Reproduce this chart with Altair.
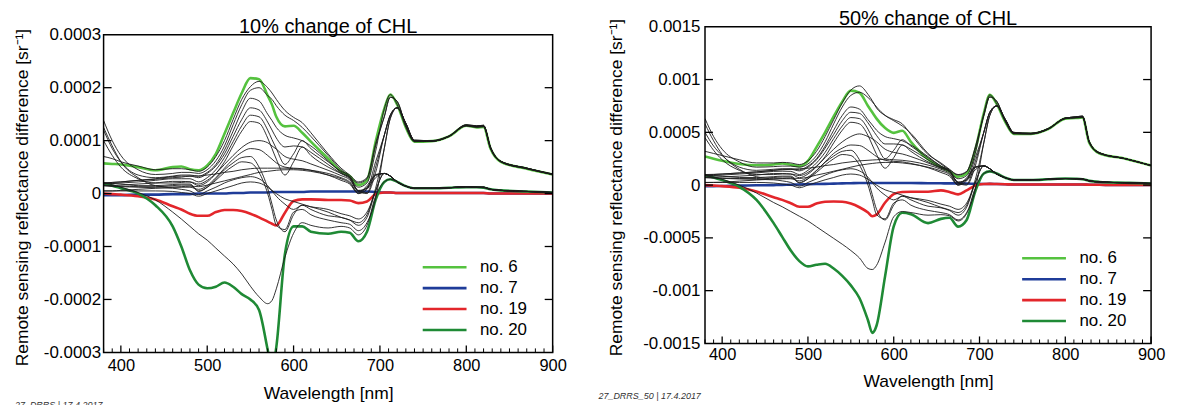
import altair as alt
import pandas as pd

FONT = "Liberation Sans"
UNIT = 1e-4  # all values below are in units of 1e-4 sr^-1

# wavelength grids [nm]
WL_HEAD = [380, 390, 400, 420, 440, 460, 470, 480, 490, 500, 510, 520, 530, 540, 550,
           560, 570, 575, 580, 590, 600, 610, 620, 640, 655, 665, 675, 685, 695]
WL_TAIL = [705, 712, 720, 730, 740, 760, 780, 800, 812, 820, 828, 840, 870, 900]

SERIES = ["no. 6", "no. 7", "no. 19", "no. 20"]
SERIES_COLORS = ["#55c23f", "#1f3c99", "#e3262b", "#1f8a35"]

# ---------------- 10 % change of CHL ----------------
TAILS_10 = {
    "UP1": [1.60, 1.87, 1.68, 1.25, 0.98, 0.99, 1.08, 1.28, 1.25, 1.26, 0.85, 0.60, 0.47, 0.36],
    "UP2": [1.45, 1.82, 1.74, 1.28, 0.99, 0.99, 1.08, 1.28, 1.26, 1.27, 0.86, 0.60, 0.47, 0.36],
    "UP3": [1.10, 1.48, 1.62, 1.32, 1.00, 0.99, 1.08, 1.29, 1.27, 1.28, 0.87, 0.61, 0.48, 0.36],
    "UP4": [0.85, 1.42, 1.62, 1.33, 1.01, 1.00, 1.09, 1.30, 1.28, 1.29, 0.88, 0.61, 0.48, 0.37],
    "LOW1": [0.38, 0.33, 0.22, 0.14, 0.10, 0.10, 0.11, 0.13, 0.12, 0.12, 0.08, 0.06, 0.04, 0.02],
    "LOW2": [0.22, 0.27, 0.22, 0.14, 0.10, 0.10, 0.11, 0.12, 0.12, 0.11, 0.08, 0.06, 0.04, 0.02],
    "ZERO": [0.02, 0.02, 0.01, 0.01, 0.01, 0.01, 0.01, 0.01, 0.01, 0.01, 0.00, 0.00, 0.00, 0.00],
}
COLORED_10 = {
    "no. 6": ([0.57, 0.56, 0.55, 0.50, 0.44, 0.50, 0.51, 0.46, 0.44, 0.53, 0.75, 1.13, 1.52, 1.90, 2.18,
               2.16, 1.85, 1.68, 1.45, 1.27, 1.28, 1.15, 0.98, 0.66, 0.42, 0.33, 0.16, 0.25, 0.98], "UP1"),
    "no. 7": ([-0.03, -0.03, -0.03, -0.02, -0.02, -0.01, -0.01, -0.01, 0.00, 0.00, 0.00, 0.00, 0.01, 0.01, 0.02,
               0.02, 0.02, 0.03, 0.03, 0.03, 0.03, 0.03, 0.04, 0.04, 0.04, 0.04, 0.04, 0.04, 0.03], "ZERO"),
    "no. 19": ([0.00, -0.01, -0.02, -0.05, -0.11, -0.24, -0.30, -0.38, -0.42, -0.42, -0.35, -0.31, -0.31, -0.33, -0.38,
                -0.45, -0.53, -0.57, -0.60, -0.36, -0.14, -0.11, -0.11, -0.12, -0.12, -0.13, -0.18, -0.15, -0.01], "ZERO"),
    "no. 20": ([0.19, 0.15, 0.10, 0.00, -0.22, -0.62, -1.00, -1.45, -1.72, -1.79, -1.76, -1.68, -1.76, -1.90, -2.00,
                -2.20, -2.95, -3.35, -2.90, -1.14, -0.62, -0.62, -0.72, -0.76, -0.72, -0.74, -0.90, -0.72, -0.12], "LOW2"),
}
BLACK_10 = {
    "k1": ([0.70, 0.66, 0.60, 0.52, 0.45, 0.47, 0.47, 0.45, 0.42, 0.50, 0.70, 1.00, 1.40, 1.78, 2.02,
            2.12, 2.00, 1.90, 1.78, 1.57, 1.44, 1.34, 1.15, 0.75, 0.48, 0.35, 0.22, 0.30, 0.95], "UP2"),
    "k2": ([1.38, 1.00, 0.72, 0.45, 0.36, 0.38, 0.40, 0.40, 0.38, 0.45, 0.62, 0.90, 1.30, 1.68, 1.95,
            2.00, 1.85, 1.78, 1.66, 1.48, 1.38, 1.25, 1.08, 0.72, 0.45, 0.32, 0.20, 0.28, 0.90], "UP2"),
    "k3": ([1.20, 0.85, 0.60, 0.35, 0.30, 0.33, 0.35, 0.35, 0.33, 0.40, 0.55, 0.82, 1.18, 1.55, 1.80,
            1.75, 1.50, 1.38, 1.25, 1.10, 1.05, 1.00, 0.90, 0.62, 0.40, 0.30, 0.12, 0.20, 0.80], "UP1"),
    "k4": ([0.20, 0.21, 0.22, 0.25, 0.28, 0.32, 0.33, 0.33, 0.30, 0.38, 0.52, 0.75, 1.08, 1.40, 1.62,
            1.58, 1.35, 1.20, 1.05, 0.88, 0.90, 0.88, 0.78, 0.55, 0.38, 0.28, 0.06, 0.10, 0.60], "UP3"),
    "k5": ([0.18, 0.19, 0.20, 0.22, 0.25, 0.28, 0.28, 0.28, 0.22, 0.30, 0.45, 0.68, 0.98, 1.28, 1.48,
            1.45, 1.20, 1.02, 0.85, 0.55, 0.75, 1.00, 0.85, 0.60, 0.42, 0.33, 0.05, 0.02, 0.50], "UP3"),
    "k6": ([0.15, 0.15, 0.16, 0.18, 0.20, 0.23, 0.23, 0.22, 0.15, 0.22, 0.38, 0.60, 0.90, 1.18, 1.36,
            1.33, 1.05, 0.85, 0.65, 0.35, 0.60, 0.88, 0.72, 0.50, 0.38, 0.30, 0.04, 0.00, 0.40], "UP3"),
    "k7": ([1.00, 0.72, 0.50, 0.28, 0.20, 0.20, 0.21, 0.22, 0.18, 0.25, 0.38, 0.55, 0.72, 0.87, 0.97,
            1.00, 0.96, 0.90, 0.84, 0.70, 0.65, 0.62, 0.56, 0.44, 0.34, 0.26, 0.05, 0.10, 0.35], "LOW1"),
    "k8": ([1.25, 0.90, 0.60, 0.30, 0.15, 0.12, 0.12, 0.12, 0.08, 0.15, 0.30, 0.48, 0.65, 0.78, 0.85,
            0.83, 0.72, 0.65, 0.58, 0.50, 0.48, 0.47, 0.44, 0.35, 0.25, 0.18, 0.00, 0.08, 0.30], "LOW1"),
    "k9": ([0.20, 0.21, 0.22, 0.25, 0.27, 0.30, 0.31, 0.33, 0.33, 0.35, 0.37, 0.40, 0.42, 0.45, 0.47,
            0.48, 0.48, 0.48, 0.48, 0.48, 0.47, 0.46, 0.44, 0.38, 0.30, 0.22, 0.02, 0.15, 0.36], "LOW1"),
    "k10": ([0.05, 0.05, 0.06, 0.08, 0.10, 0.12, 0.13, 0.14, 0.13, 0.16, 0.20, 0.24, 0.28, 0.32, 0.36,
             0.40, 0.42, 0.43, 0.44, 0.45, 0.45, 0.44, 0.42, 0.35, 0.28, 0.20, 0.00, 0.12, 0.34], "LOW1"),
    "k11": ([0.20, 0.19, 0.18, 0.15, 0.15, 0.17, 0.18, 0.18, 0.05, 0.12, 0.25, 0.40, 0.52, 0.60, 0.58,
             0.40, 0.00, -0.30, -0.60, -0.68, -0.35, -0.30, -0.40, -0.50, -0.55, -0.58, -0.70, -0.55, -0.10], "UP4"),
    "k12": ([0.15, 0.14, 0.14, 0.13, 0.13, 0.15, 0.16, 0.16, 0.04, 0.12, 0.28, 0.45, 0.58, 0.68, 0.70,
             0.50, 0.10, -0.20, -0.50, -0.72, -0.40, -0.22, -0.30, -0.42, -0.45, -0.50, -0.60, -0.45, 0.05], "LOW1"),
    "k13": ([0.20, 0.17, 0.12, 0.02, -0.12, -0.35, -0.48, -0.62, -0.76, -0.88, -1.03, -1.18, -1.33, -1.52, -1.75,
             -1.95, -2.08, -2.02, -1.80, -1.20, -0.75, -0.55, -0.60, -0.65, -0.62, -0.65, -0.78, -0.60, -0.05], "LOW2"),
    "k14": ([0.05, 0.05, 0.05, 0.05, 0.05, 0.04, 0.02, 0.00, -0.05, 0.00, 0.05, 0.10, 0.15, 0.20, 0.22,
             0.20, 0.12, 0.06, 0.00, -0.10, -0.15, -0.20, -0.25, -0.35, -0.45, -0.50, -0.55, -0.40, 0.05], "LOW1"),
    "k15": ([0.15, 0.14, 0.13, 0.12, 0.11, 0.10, 0.08, 0.05, -0.02, 0.05, 0.12, 0.20, 0.26, 0.30, 0.32,
             0.28, 0.15, 0.05, -0.05, -0.20, -0.30, -0.22, -0.25, -0.30, -0.38, -0.42, -0.48, -0.35, 0.10], "UP4"),
}

# ---------------- 50 % change of CHL ----------------
TAILS_50 = {
    "UP1": [6.80, 8.55, 7.70, 6.00, 4.85, 4.85, 5.30, 6.30, 6.35, 6.40, 4.00, 3.00, 2.50, 1.85],
    "UP2": [6.60, 8.35, 7.95, 6.10, 4.90, 4.85, 5.30, 6.30, 6.40, 6.45, 4.05, 3.00, 2.50, 1.85],
    "UP3": [5.00, 6.90, 7.50, 6.20, 4.95, 4.90, 5.35, 6.35, 6.45, 6.50, 4.10, 3.05, 2.50, 1.85],
    "UP4": [4.00, 6.60, 7.50, 6.25, 5.00, 4.90, 5.35, 6.35, 6.45, 6.55, 4.10, 3.05, 2.50, 1.85],
    "LOW1": [1.82, 1.55, 1.05, 0.70, 0.50, 0.50, 0.55, 0.62, 0.60, 0.58, 0.40, 0.30, 0.22, 0.16],
    "LOW2": [1.10, 1.30, 1.10, 0.70, 0.48, 0.48, 0.55, 0.62, 0.60, 0.56, 0.40, 0.30, 0.22, 0.15],
    "ZERO": [0.10, 0.12, 0.10, 0.08, 0.06, 0.05, 0.05, 0.05, 0.05, 0.05, 0.04, 0.03, 0.02, 0.02],
}
COLORED_50 = {
    "no. 6": ([2.72, 2.50, 2.30, 2.00, 1.88, 1.95, 2.04, 1.92, 1.80, 2.30, 3.60, 5.00, 6.50, 7.90, 8.95,
               8.75, 7.50, 6.90, 6.30, 5.40, 4.95, 5.15, 4.10, 2.45, 1.70, 1.30, 0.79, 1.10, 3.30], "UP1"),
    "no. 7": ([-0.10, -0.10, -0.08, -0.05, -0.02, 0.00, 0.02, 0.04, 0.06, 0.08, 0.10, 0.12, 0.14, 0.16, 0.18,
               0.20, 0.20, 0.20, 0.20, 0.20, 0.20, 0.20, 0.20, 0.18, 0.17, 0.16, 0.16, 0.15, 0.12], "ZERO"),
    "no. 19": ([0.00, -0.05, -0.10, -0.25, -0.60, -1.15, -1.40, -1.72, -2.05, -2.05, -1.75, -1.57, -1.55, -1.57, -1.75,
                -2.10, -2.60, -2.95, -2.80, -1.65, -0.85, -0.65, -0.63, -0.63, -0.50, -0.65, -0.88, -0.50, -0.05], "ZERO"),
    "no. 20": ([0.94, 0.72, 0.47, -0.16, -1.40, -3.60, -4.90, -6.20, -7.20, -7.70, -7.55, -7.45, -7.90, -8.60, -9.50,
                -10.70, -12.80, -14.00, -13.30, -8.60, -3.90, -2.62, -2.75, -3.60, -3.20, -3.10, -3.93, -3.30, -0.60], "LOW2"),
}
BLACK_50 = {
    "k1": ([3.20, 3.00, 2.80, 2.40, 2.10, 2.10, 2.15, 2.10, 1.95, 2.30, 3.20, 4.60, 6.20, 7.80, 9.00,
            9.40, 8.60, 8.00, 7.30, 6.60, 6.20, 5.80, 4.80, 2.90, 2.10, 1.50, 1.00, 1.30, 3.60], "UP2"),
    "k2": ([6.30, 4.60, 3.40, 2.20, 1.70, 1.75, 1.80, 1.80, 1.70, 2.00, 2.80, 4.10, 5.80, 7.40, 8.50,
            8.80, 8.30, 7.90, 7.40, 6.60, 6.10, 5.60, 4.90, 3.00, 2.00, 1.45, 0.95, 1.25, 3.40], "UP2"),
    "k3": ([5.00, 3.70, 2.80, 1.70, 1.40, 1.50, 1.55, 1.55, 1.45, 1.80, 2.50, 3.70, 5.20, 6.60, 7.40,
            7.20, 6.20, 5.70, 5.20, 4.60, 4.40, 4.20, 3.80, 2.70, 1.80, 1.35, 0.60, 0.90, 3.00], "UP1"),
    "k4": ([0.95, 1.00, 1.05, 1.15, 1.25, 1.40, 1.50, 1.50, 1.35, 1.70, 2.40, 3.50, 4.80, 6.10, 6.90,
            6.80, 5.90, 5.30, 4.70, 3.90, 3.90, 3.80, 3.40, 2.40, 1.70, 1.30, 0.30, 0.50, 2.60], "UP3"),
    "k5": ([0.90, 0.92, 0.95, 1.05, 1.15, 1.30, 1.32, 1.30, 1.00, 1.40, 2.10, 3.10, 4.40, 5.60, 6.40,
            6.30, 5.30, 4.50, 3.80, 2.50, 3.30, 4.30, 3.70, 2.60, 1.80, 1.40, 0.25, 0.10, 2.20], "UP3"),
    "k6": ([0.75, 0.76, 0.78, 0.85, 0.95, 1.10, 1.10, 1.05, 0.70, 1.05, 1.75, 2.70, 4.00, 5.20, 5.95,
            5.80, 4.70, 3.80, 2.90, 1.60, 2.60, 3.80, 3.20, 2.20, 1.65, 1.30, 0.20, 0.00, 1.80], "UP3"),
    "k7": ([4.50, 3.30, 2.40, 1.40, 1.00, 1.00, 1.05, 1.05, 0.90, 1.20, 1.80, 2.60, 3.40, 4.10, 4.60,
            4.85, 4.60, 4.40, 4.10, 3.40, 3.10, 2.95, 2.70, 2.10, 1.60, 1.25, 0.25, 0.50, 1.70], "LOW1"),
    "k8": ([5.80, 4.20, 2.90, 1.50, 0.80, 0.60, 0.60, 0.60, 0.40, 0.75, 1.40, 2.20, 3.00, 3.50, 3.80,
            3.75, 3.30, 3.00, 2.70, 2.35, 2.25, 2.20, 2.05, 1.65, 1.20, 0.85, 0.00, 0.40, 1.45], "LOW1"),
    "k9": ([1.00, 1.02, 1.05, 1.15, 1.25, 1.40, 1.45, 1.50, 1.55, 1.60, 1.70, 1.85, 1.95, 2.10, 2.20,
            2.30, 2.35, 2.38, 2.40, 2.45, 2.40, 2.35, 2.25, 1.90, 1.50, 1.10, 0.10, 0.70, 1.75], "LOW1"),
    "k10": ([0.25, 0.26, 0.28, 0.38, 0.48, 0.58, 0.62, 0.66, 0.63, 0.75, 0.95, 1.12, 1.32, 1.50, 1.70,
             1.88, 2.00, 2.05, 2.10, 2.15, 2.15, 2.10, 2.00, 1.70, 1.35, 1.00, 0.00, 0.60, 1.65], "LOW1"),
    "k11": ([0.95, 0.90, 0.85, 0.72, 0.72, 0.80, 0.85, 0.85, 0.25, 0.60, 1.20, 1.90, 2.50, 2.90, 2.80,
             1.90, 0.00, -1.40, -2.80, -3.20, -1.70, -1.40, -1.90, -2.40, -2.60, -2.80, -3.30, -2.60, -0.50], "UP4"),
    "k12": ([0.70, 0.68, 0.66, 0.62, 0.62, 0.72, 0.76, 0.76, 0.20, 0.60, 1.35, 2.15, 2.75, 3.20, 3.30,
             2.40, 0.50, -0.90, -2.30, -3.30, -1.90, -1.05, -1.40, -2.00, -2.15, -2.40, -2.85, -2.10, 0.25], "LOW1"),
    "k13": ([0.90, 0.75, 0.55, 0.00, -0.75, -1.65, -2.05, -2.50, -2.95, -3.40, -3.95, -4.50, -5.05, -5.60, -6.20,
             -6.90, -7.90, -8.00, -7.60, -5.40, -3.00, -2.50, -2.60, -2.85, -2.80, -2.90, -3.40, -2.70, -0.30], "LOW2"),
    "k14": ([0.25, 0.25, 0.25, 0.25, 0.25, 0.20, 0.10, 0.00, -0.25, 0.00, 0.25, 0.50, 0.72, 0.95, 1.05,
             0.95, 0.55, 0.30, 0.00, -0.45, -0.70, -0.95, -1.20, -1.65, -2.10, -2.35, -2.60, -1.90, 0.20], "LOW1"),
    "k15": ([0.72, 0.68, 0.64, 0.58, 0.54, 0.50, 0.40, 0.25, -0.10, 0.25, 0.58, 0.95, 1.25, 1.45, 1.55,
             1.35, 0.75, 0.25, -0.25, -0.95, -1.40, -1.05, -1.20, -1.45, -1.80, -2.00, -2.30, -1.70, 0.50], "UP4"),
}

X_TICKS = [400, 500, 600, 700, 800, 900]
X_MINOR = [w for w in range(380, 901, 10) if w % 100 != 0]
Y_TICKS_10 = [-0.0003, -0.0002, -0.0001, 0.0, 0.0001, 0.0002, 0.0003]
Y_TICKS_50 = [-0.0015, -0.001, -0.0005, 0.0, 0.0005, 0.001, 0.0015]


def build_rows(curves, tails):
    rows = []
    for name, (head, tail_key) in curves.items():
        for w, v in zip(WL_HEAD + WL_TAIL, head + tails[tail_key]):
            rows.append({"curve": name, "wl": w, "val": v * UNIT})
    return pd.DataFrame(rows)


def panel(colored, black, tails, yticks, title, W, H, top, leg_x, leg_y, label_pad, title_pad,
          title_y, x_label_pad, x_title_pad, footer, foot_x, foot_y):
    # top: pixel offset of the frame's top inside the view
    ymax = yticks[-1]
    xs = alt.Scale(domain=[380, 900], nice=False, zero=False)
    ys = alt.Scale(domain=[-ymax, ymax], range=[H, top], nice=False, zero=False)
    xaxis = alt.Axis(values=X_TICKS, format="d", title="Wavelength [nm]", grid=False, ticks=False,
                     tickSize=0, domain=False, labelFont=FONT, labelFontSize=16.5, labelColor="black",
                     labelPadding=x_label_pad, labelFlush=False, labelOverlap=False, titleFont=FONT,
                     titleFontSize=17.5, titleFontWeight="normal", titleColor="black",
                     titlePadding=x_title_pad)
    yaxis = alt.Axis(values=yticks, title="Remote sensing reflectance difference [sr⁻¹]", grid=False,
                     ticks=False, tickSize=0, domain=False, labelFont=FONT, labelFontSize=17,
                     labelColor="black", labelPadding=label_pad, labelFlush=False, labelOverlap=False,
                     labelExpr="replace(format(datum.value, '.4~f'), '\u2212', '-')",
                     titleFont=FONT, titleFontSize=17.5, titleFontWeight="normal", titleColor="black",
                     titlePadding=title_pad, titleY=title_y)

    col_df = build_rows(colored, tails)
    blk_df = build_rows(black, tails)

    colored_layer = alt.Chart(col_df).mark_line(strokeWidth=2.6, clip=True, interpolate="monotone").encode(
        x=alt.X("wl:Q", scale=xs, axis=xaxis),
        y=alt.Y("val:Q", scale=ys, axis=yaxis),
        color=alt.Color("curve:N", scale=alt.Scale(domain=SERIES, range=SERIES_COLORS),
                        sort=SERIES,
                        legend=alt.Legend(title=None, orient="none", legendX=leg_x, legendY=leg_y,
                                          symbolType="M-2.2,0H2.2", symbolSize=400, symbolStrokeWidth=2.6,
                                          labelFont=FONT, labelFontSize=17, labelColor="black",
                                          labelOffset=24, rowPadding=1, padding=0)),
        order=alt.Order("wl:Q"),
    )
    black_layer = alt.Chart(blk_df).mark_line(strokeWidth=0.9, color="#1c1c1c", clip=True,
                                              interpolate="monotone").encode(
        x=alt.X("wl:Q", scale=xs), y=alt.Y("val:Q", scale=ys), detail="curve:N",
        order=alt.Order("wl:Q"),
    )

    one = pd.DataFrame({"t": [title]})
    frame = alt.Chart(one).mark_rect(filled=False, stroke="black", strokeWidth=1.5).encode(
        x=alt.value(0), x2=alt.value(W), y=alt.value(top), y2=alt.value(H))
    title_mark = alt.Chart(one).mark_text(
        align="center", baseline="alphabetic", font=FONT, fontSize=20, color="black"
    ).encode(x=alt.value(W / 2), y=alt.value(top - 2), text="t:N")

    ytick_df = pd.DataFrame({"val": yticks[1:-1]})
    left_ticks = alt.Chart(ytick_df).mark_rule(color="black", strokeWidth=1.3).encode(
        y=alt.Y("val:Q", scale=ys), x=alt.value(0), x2=alt.value(8))
    right_ticks = alt.Chart(ytick_df).mark_rule(color="black", strokeWidth=1.3).encode(
        y=alt.Y("val:Q", scale=ys), x=alt.value(W), x2=alt.value(W - 8))
    major_ticks = alt.Chart(pd.DataFrame({"wl": X_TICKS})).mark_rule(color="black", strokeWidth=1.3).encode(
        x=alt.X("wl:Q", scale=xs), y=alt.value(H), y2=alt.value(H - 7))
    minor_ticks = alt.Chart(pd.DataFrame({"wl": X_MINOR})).mark_rule(color="black", strokeWidth=1).encode(
        x=alt.X("wl:Q", scale=xs), y=alt.value(H), y2=alt.value(H - 4))

    foot = alt.Chart(pd.DataFrame({"t": [footer]})).mark_text(
        align="left", baseline="alphabetic", font=FONT, fontSize=9, fontStyle="italic", color="#333333"
    ).encode(x=alt.value(foot_x), y=alt.value(foot_y), text="t:N")

    layers = [colored_layer, black_layer, frame, left_ticks, right_ticks, major_ticks, minor_ticks,
              title_mark, foot]
    return alt.layer(*layers).properties(width=W, height=H)


# left view starts 8 px above its frame, so that its frame sits lower than the right one
left = panel(COLORED_10, BLACK_10, TAILS_10, Y_TICKS_10, "10% change of CHL", 451, 327, 8,
             331, 230, 3, 12, 171, 5, 11, "27_DRRS | 17.4.2017", -89, 383)
right = panel(COLORED_50, BLACK_50, TAILS_50, Y_TICKS_50, "50% change of CHL", 448, 318, 0,
              329, 221, 5, 17, 161, 3, 10, "27_DRRS_50 | 17.4.2017", -107, 374)

chart = alt.hconcat(left, right, spacing=32).resolve_scale(
    color="independent", x="independent", y="independent"
).resolve_legend(color="independent").properties(
    padding={"left": 5, "top": 0, "right": 5, "bottom": 0}
).configure_view(stroke="transparent", strokeWidth=0)

chart.save("out.html", embed_options={"renderer": "svg", "actions": False})
